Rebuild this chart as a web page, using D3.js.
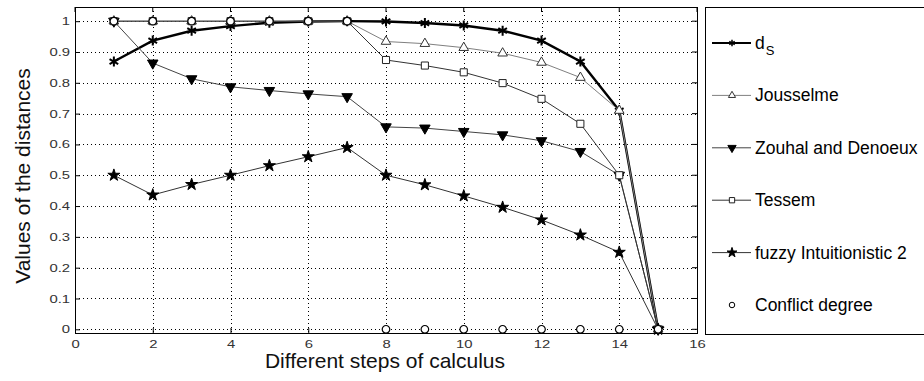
<!DOCTYPE html>
<html>
<head>
<meta charset="utf-8">
<script src="https://cdn.jsdelivr.net/npm/d3@7"></script>
<style>
  body { margin: 0; background: #fff; }
  text { font-family: "Liberation Sans", Arial, sans-serif; }
</style>
</head>
<body>
<div id="vis"></div>
<script>
var steps = [1, 2, 3, 4, 5, 6, 7, 8, 9, 10, 11, 12, 13, 14, 15];
var dS = [0.869, 0.937, 0.969, 0.984, 0.995, 0.999, 1.0, 0.999, 0.994, 0.986, 0.969, 0.937, 0.869, 0.71, 0];
var jousselme = [1, 1, 1, 1, 1, 1, 1, 0.934, 0.927, 0.914, 0.896, 0.866, 0.817, 0.71, 0];
var zouhal = [1, 0.864, 0.813, 0.787, 0.775, 0.764, 0.755, 0.657, 0.653, 0.642, 0.631, 0.612, 0.577, 0.5, 0];
var tessem = [1, 1, 1, 1, 1, 1, 1, 0.874, 0.856, 0.834, 0.799, 0.748, 0.667, 0.5, 0];
var fuzzy2 = [0.5, 0.436, 0.47, 0.5, 0.531, 0.56, 0.59, 0.5, 0.469, 0.433, 0.396, 0.355, 0.306, 0.25, 0];
var conflict = [1, 1, 1, 1, 1, 1, 1, 0, 0, 0, 0, 0, 0, 0, 0];
var xTicks = [0, 2, 4, 6, 8, 10, 12, 14, 16];
var yTicks = [0, 0.1, 0.2, 0.3, 0.4, 0.5, 0.6, 0.7, 0.8, 0.9, 1];
var seriesNames = ["d", "Jousselme", "Zouhal and Denoeux", "Tessem", "fuzzy Intuitionistic 2", "Conflict degree"];

var width = 924, height = 381;
var pLeft = 75, pRight = 697, pTop = 7, pBottom = 333;

var svg = d3.select("#vis").append("svg")
  .attr("width", width).attr("height", height);

var xScale = d3.scaleLinear().domain([0, 16]).range([pLeft, pRight]);
var yScale = d3.scaleLinear().domain([-0.012, 1.046]).range([pBottom, pTop]);

// grid
var grid = svg.append("g");
grid.selectAll(".gx").data(xTicks.slice(1, -1)).enter().append("line")
  .attr("x1", function(d) { return Math.round(xScale(d)) + 0.5; })
  .attr("x2", function(d) { return Math.round(xScale(d)) + 0.5; })
  .attr("y1", pTop).attr("y2", pBottom)
  .attr("stroke", "#000").attr("stroke-width", 1).attr("stroke-dasharray", "1,3");
grid.selectAll(".gy").data(yTicks).enter().append("line")
  .attr("y1", function(d) { return Math.round(yScale(d)) + 0.5; })
  .attr("y2", function(d) { return Math.round(yScale(d)) + 0.5; })
  .attr("x1", pLeft).attr("x2", pRight)
  .attr("stroke", "#000").attr("stroke-width", 1).attr("stroke-dasharray", "1,3");

// axes
var xAxis = d3.axisBottom(xScale).tickValues(xTicks).tickSize(-5).tickPadding(7).tickFormat(d3.format("d"));
var yAxis = d3.axisLeft(yScale).tickValues(yTicks).tickSize(-5).tickPadding(5).tickFormat(function(d) { return String(d); });
var gx = svg.append("g").attr("transform", "translate(0," + pBottom + ")").call(xAxis);
var gy = svg.append("g").attr("transform", "translate(" + pLeft + ",0)").call(yAxis);
[gx, gy].forEach(function(g) {
  g.select(".domain").remove();
  g.selectAll("text").attr("font-size", 11).attr("fill", "#333").attr("font-family", "Liberation Sans, Arial, sans-serif");
  g.selectAll("line").attr("stroke", "#000");
});
// tick labels look horizontally stretched in the original
gx.selectAll("text").attr("transform", "scale(1.35,1)");
gy.selectAll("text").attr("x", 0).attr("transform", "translate(-5,0) scale(1.35,1)");

// mirrored ticks on top and right
svg.append("g").selectAll("line").data(xTicks).enter().append("line")
  .attr("x1", function(d) { return xScale(d); }).attr("x2", function(d) { return xScale(d); })
  .attr("y1", pTop).attr("y2", pTop + 5).attr("stroke", "#000");
svg.append("g").selectAll("line").data(yTicks).enter().append("line")
  .attr("y1", function(d) { return yScale(d); }).attr("y2", function(d) { return yScale(d); })
  .attr("x1", pRight).attr("x2", pRight - 5).attr("stroke", "#000");

svg.append("rect")
  .attr("x", pLeft + 0.5).attr("y", pTop + 0.5)
  .attr("width", pRight - pLeft).attr("height", pBottom - pTop)
  .attr("fill", "none").attr("stroke", "#000").attr("stroke-width", 1);

svg.append("text")
  .attr("x", 385).attr("y", 368)
  .attr("text-anchor", "middle").attr("font-size", 21).attr("fill", "#111")
  .text("Different steps of calculus");
svg.append("text")
  .attr("transform", "translate(30,176) rotate(-90)")
  .attr("text-anchor", "middle").attr("font-size", 21).attr("fill", "#111")
  .text("Values of the distances");

// markers
var asterisk = {
  draw: function(ctx, size) {
    var r = Math.sqrt(size) / 2;
    for (var i = 0; i < 3; i++) {
      var a = Math.PI / 2 + i * Math.PI / 3;
      ctx.moveTo(r * Math.cos(a), r * Math.sin(a));
      ctx.lineTo(-r * Math.cos(a), -r * Math.sin(a));
    }
  }
};

var series = [
  { values: dS, color: "#000", width: 2.4, line: true, symbol: asterisk, size: 100, fill: "none", stroke: "#000", sw: 2, rot: 0, lsize: 40 },
  { values: jousselme, color: "#808080", width: 1, line: true, symbol: d3.symbolTriangle, size: 40, fill: "#fff", stroke: "#333", sw: 1, rot: 0, lsize: 22 },
  { values: zouhal, color: "#444", width: 1, line: true, symbol: d3.symbolTriangle, size: 48, fill: "#000", stroke: "#000", sw: 1, rot: 180, lsize: 30 },
  { values: tessem, color: "#333", width: 1, line: true, symbol: d3.symbolSquare, size: 50, fill: "#fff", stroke: "#222", sw: 1, rot: 0, lsize: 28 },
  { values: fuzzy2, color: "#333", width: 1, line: true, symbol: d3.symbolStar, size: 45, fill: "#000", stroke: "#000", sw: 1, rot: 0, lsize: 30 },
  { values: conflict, color: "#000", width: 1, line: false, symbol: d3.symbolCircle, size: 45, fill: "#fff", stroke: "#000", sw: 1.2, rot: 0, lsize: 24 }
];

var line = d3.line()
  .x(function(d) { return xScale(d[0]); })
  .y(function(d) { return yScale(d[1]); });

series.forEach(function(s) {
  var pts = steps.map(function(x, i) { return [x, s.values[i]]; });
  var g = svg.append("g");
  if (s.line) {
    g.append("path").datum(pts)
      .attr("d", line).attr("fill", "none")
      .attr("stroke", s.color).attr("stroke-width", s.width);
  }
  g.selectAll("path.m").data(pts).enter().append("path")
    .attr("class", "m")
    .attr("d", d3.symbol().type(s.symbol).size(s.size))
    .attr("transform", function(d) { return "translate(" + xScale(d[0]) + "," + yScale(d[1]) + ") rotate(" + s.rot + ")"; })
    .attr("fill", s.fill).attr("stroke", s.stroke).attr("stroke-width", s.sw);
});

// legend
var legX = 705, legTop = 7, legBottom = 334;
svg.append("rect")
  .attr("x", legX + 0.5).attr("y", legTop + 0.5)
  .attr("width", width - legX + 5).attr("height", legBottom - legTop)
  .attr("fill", "#fff").attr("stroke", "#000").attr("stroke-width", 1);

var legY = d3.scalePoint().domain(seriesNames).range([43, 305]);
series.forEach(function(s, i) {
  var y = legY(seriesNames[i]);
  var g = svg.append("g");
  if (s.line) {
    g.append("line").attr("x1", 712).attr("x2", 751).attr("y1", y).attr("y2", y)
      .attr("stroke", s.color).attr("stroke-width", i === 0 ? 2 : 1);
  }
  g.append("path")
    .attr("d", d3.symbol().type(s.symbol).size(s.lsize))
    .attr("transform", "translate(732," + y + ") rotate(" + s.rot + ")")
    .attr("fill", s.fill).attr("stroke", s.stroke).attr("stroke-width", i === 0 ? 1.5 : 1);
  var t = g.append("text").attr("x", 755).attr("y", y + 6)
    .attr("font-size", 17.5).attr("fill", "#000");
  t.text(seriesNames[i]);
  if (i === 0) {
    t.append("tspan").attr("font-size", 13).attr("dy", 6).attr("dx", 1).text("S");
  }
});
</script>
</body>
</html>
